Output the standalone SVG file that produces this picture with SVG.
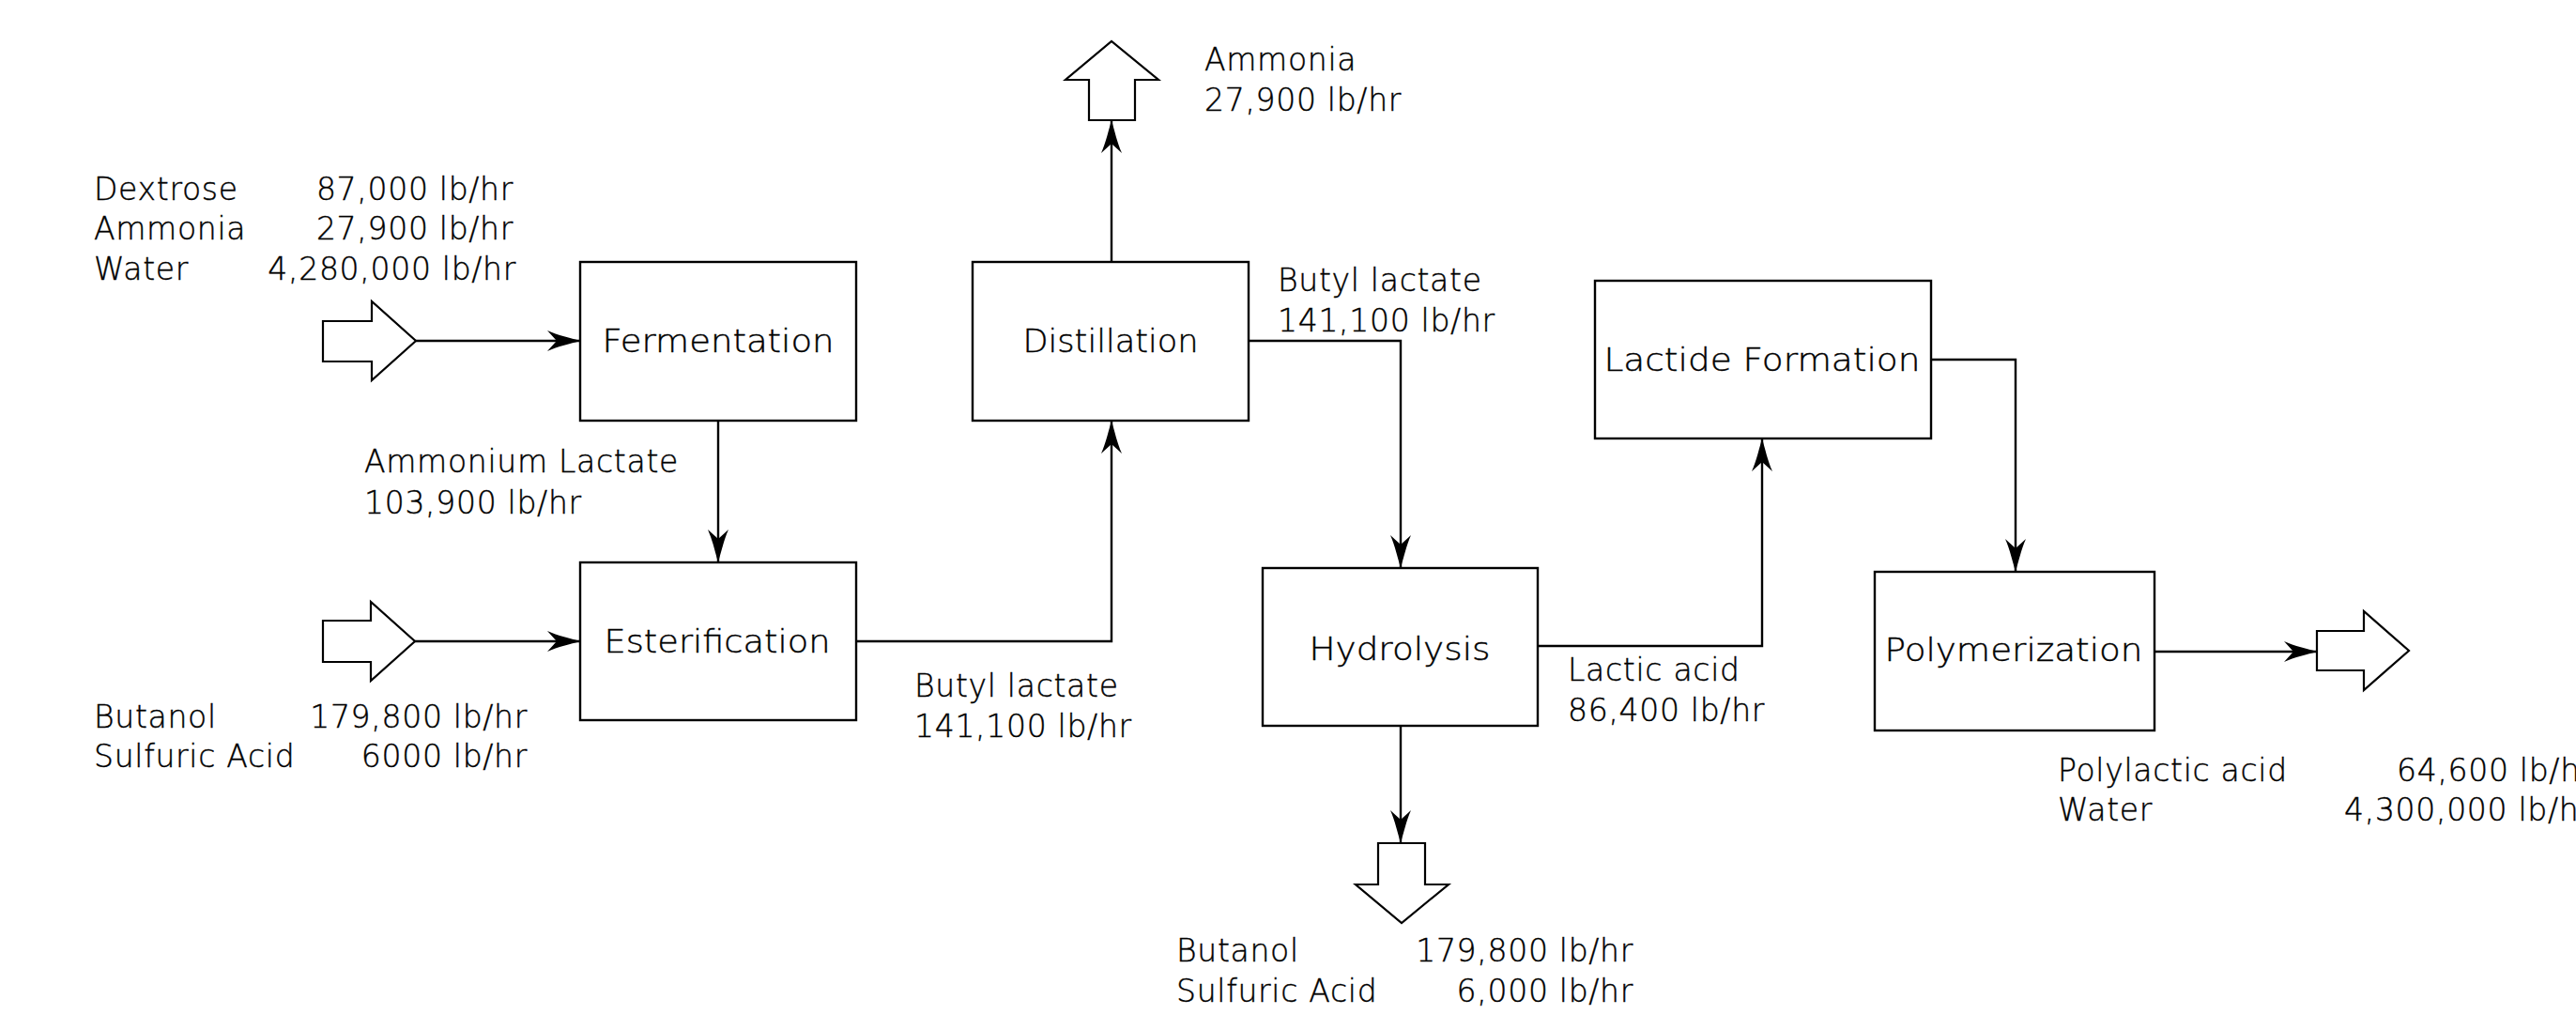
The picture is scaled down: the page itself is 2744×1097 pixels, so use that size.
<svg xmlns="http://www.w3.org/2000/svg" width="2744" height="1097" viewBox="0 0 2744 1097">
<style>
  text { font-family: "DejaVu Sans", "Liberation Sans", sans-serif; font-size: 33px; font-weight: 200; fill: #000000; stroke: #000000; stroke-width: 0.4; letter-spacing: 0.7px; }
  .box { fill: #ffffff; stroke: #000000; stroke-width: 2.4; }
  .lbl { text-anchor: middle; letter-spacing: 0; }
  .end { text-anchor: end; }
  .conn { fill: none; stroke: #000000; stroke-width: 2.4; marker-end: url(#arr); }
  .blk { fill: #ffffff; stroke: #000000; stroke-width: 2.2; stroke-linejoin: miter; }
</style>
<defs>
  <marker id="arr" markerUnits="userSpaceOnUse" viewBox="-37 -13 38 26" markerWidth="38" markerHeight="26" refX="0" refY="0" orient="auto">
    <path d="M0,0 C-10,-3 -24,-6 -35,-11 L-25,0 L-35,11 C-24,6 -10,3 0,0 Z" fill="#000000"/>
  </marker>
</defs>
<rect width="2744" height="1097" fill="#ffffff"/>

<g id="connectors">
  <path class="conn" d="M443,363 L618,363"/>
  <path class="conn" d="M765,448 L765,599"/>
  <path class="conn" d="M442,683 L618,683"/>
  <path class="conn" d="M912,683 L1184,683 L1184,448"/>
  <path class="conn" d="M1184,279 L1184,128"/>
  <path class="conn" d="M1330,363 L1492,363 L1492,605"/>
  <path class="conn" d="M1492,773 L1492,898"/>
  <path class="conn" d="M1638,688 L1877,688 L1877,467"/>
  <path class="conn" d="M2057,383 L2147,383 L2147,609"/>
  <path class="conn" d="M2295,694 L2468,694"/>
</g>

<g id="feed1">
  <polygon class="blk" points="344,342 396,342 396,321 443,363 396,405 396,385 344,385"/>
  <text x="100" y="213">Dextrose</text>
  <text class="end" x="547" y="213">87,000 lb/hr</text>
  <text x="100" y="255">Ammonia</text>
  <text class="end" x="547" y="255">27,900 lb/hr</text>
  <text x="100" y="298">Water</text>
  <text class="end" x="550" y="298">4,280,000 lb/hr</text>
</g>

<g id="feed2">
  <polygon class="blk" points="344,661 395,661 395,641 442,683 395,725 395,705 344,705"/>
  <text x="100" y="775">Butanol</text>
  <text class="end" x="562" y="775">179,800 lb/hr</text>
  <text x="100" y="817">Sulfuric Acid</text>
  <text class="end" x="562" y="817">6000 lb/hr</text>
</g>

<g id="fermentation">
  <rect class="box" x="618" y="279" width="294" height="169"/>
  <text class="lbl" x="765" y="375" textLength="247" lengthAdjust="spacingAndGlyphs">Fermentation</text>
</g>

<g id="ammonium-lactate-label">
  <text x="388" y="503">Ammonium Lactate</text>
  <text x="388" y="547">103,900 lb/hr</text>
</g>

<g id="esterification">
  <rect class="box" x="618" y="599" width="294" height="168"/>
  <text class="lbl" x="764" y="695" textLength="241" lengthAdjust="spacingAndGlyphs">Esterification</text>
</g>

<g id="butyl-lactate-label-1">
  <text x="974" y="742">Butyl lactate</text>
  <text x="974" y="785">141,100 lb/hr</text>
</g>

<g id="distillation">
  <rect class="box" x="1036" y="279" width="294" height="169"/>
  <text class="lbl" x="1183" y="375" textLength="187" lengthAdjust="spacingAndGlyphs">Distillation</text>
</g>

<g id="ammonia-out">
  <polygon class="blk" points="1160,128 1160,85 1135,85 1184,44 1234,85 1209,85 1209,128"/>
  <text x="1283" y="75">Ammonia</text>
  <text x="1283" y="118">27,900 lb/hr</text>
</g>

<g id="butyl-lactate-label-2">
  <text x="1361" y="310">Butyl lactate</text>
  <text x="1361" y="353">141,100 lb/hr</text>
</g>

<g id="hydrolysis">
  <rect class="box" x="1345" y="605" width="293" height="168"/>
  <text class="lbl" x="1491" y="703" textLength="193" lengthAdjust="spacingAndGlyphs">Hydrolysis</text>
</g>

<g id="recycle-out">
  <polygon class="blk" points="1468,898 1518,898 1518,942 1543,942 1493,983 1444,942 1468,942"/>
  <text x="1253" y="1024">Butanol</text>
  <text class="end" x="1740" y="1024">179,800 lb/hr</text>
  <text x="1253" y="1067">Sulfuric Acid</text>
  <text class="end" x="1740" y="1067">6,000 lb/hr</text>
</g>

<g id="lactic-acid-label">
  <text x="1670" y="725">Lactic acid</text>
  <text x="1670" y="768">86,400 lb/hr</text>
</g>

<g id="lactide-formation">
  <rect class="box" x="1699" y="299" width="358" height="168"/>
  <text class="lbl" x="1877" y="395" textLength="337" lengthAdjust="spacingAndGlyphs">Lactide Formation</text>
</g>

<g id="polymerization">
  <rect class="box" x="1997" y="609" width="298" height="169"/>
  <text class="lbl" x="2145" y="704" textLength="275" lengthAdjust="spacingAndGlyphs">Polymerization</text>
</g>

<g id="product-out">
  <polygon class="blk" points="2468,672 2518,672 2518,651 2566,693 2518,735 2518,714 2468,714"/>
  <text x="2192" y="832">Polylactic acid</text>
  <text x="2553" y="832">64,600 lb/hr</text>
  <text x="2192" y="874">Water</text>
  <text x="2497" y="874">4,300,000 lb/hr</text>
</g>
</svg>
